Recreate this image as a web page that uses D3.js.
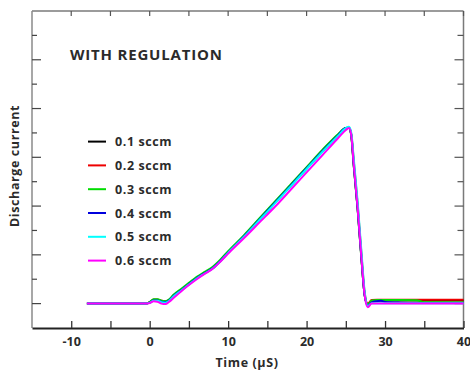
<!DOCTYPE html>
<html>
<head>
<meta charset="utf-8">
<script src="https://cdn.jsdelivr.net/npm/d3@7"></script>
<style>
  body { margin: 0; background: #fff; }
  svg text { font-family: "Open Sans", "DejaVu Sans", sans-serif; font-weight: 700; fill: #2b2b2b; letter-spacing: 0.6px; }
</style>
</head>
<body>
<div id="chart"></div>
<script>
// Shared time axis (µS)
const time = [-8, -0.5, 0, 0.5, 1, 1.5, 2, 2.5, 3, 4, 5, 6, 7, 8, 9, 10, 12, 14, 16, 18, 20, 22, 24,
              25, 25.4, 25.7, 26, 26.5, 27, 27.4, 27.8, 28.3, 29, 29.5, 30, 32, 34, 35, 40];

// Discharge current per flow rate (arbitrary units, baseline = 0)
const sccm01 = [0, 0, 0.05, 0.15, 0.15, 0.1, 0.08, 0.15, 0.3, 0.55, 0.8, 1.05, 1.25, 1.45, 1.75, 2.1, 2.75, 3.45, 4.15, 4.85, 5.55, 6.25, 6.9,
                7.2, 7.22, 6.9, 5.7, 3.9, 1.8, 0.35, -0.05, 0.12, 0.13, 0.13, 0.13, 0.13, 0.13, 0.13, 0.13];
const sccm02 = [0, 0, 0.06, 0.17, 0.17, 0.12, 0.1, 0.16, 0.32, 0.56, 0.8, 1.05, 1.25, 1.45, 1.75, 2.1, 2.75, 3.45, 4.15, 4.85, 5.55, 6.25, 6.9,
                7.18, 7.2, 6.95, 5.9, 4.1, 2.0, 0.45, 0.0, 0.15, 0.16, 0.16, 0.16, 0.16, 0.16, 0.16, 0.16];
const sccm03 = [0, 0, 0.06, 0.18, 0.18, 0.12, 0.1, 0.18, 0.35, 0.6, 0.85, 1.1, 1.3, 1.5, 1.8, 2.15, 2.8, 3.5, 4.2, 4.9, 5.6, 6.3, 6.95,
                7.2, 7.2, 6.85, 5.7, 3.9, 1.8, 0.35, -0.05, 0.13, 0.15, 0.15, 0.15, 0.15, 0.14, 0.06, 0.05];
const sccm04 = [0, 0, 0.04, 0.13, 0.13, 0.08, 0.06, 0.14, 0.3, 0.55, 0.8, 1.05, 1.25, 1.45, 1.75, 2.1, 2.75, 3.45, 4.15, 4.85, 5.55, 6.25, 6.9,
                7.2, 7.2, 6.9, 5.75, 3.95, 1.85, 0.35, -0.08, 0.05, 0.1, 0.12, 0.07, 0.04, 0.03, 0.03, 0.03];
const sccm05 = [0, 0, 0.03, 0.12, 0.12, 0.06, 0.04, 0.12, 0.28, 0.53, 0.78, 1.03, 1.23, 1.43, 1.73, 2.08, 2.73, 3.43, 4.12, 4.82, 5.52, 6.22, 6.88,
                7.2, 7.25, 7.0, 6.0, 4.2, 2.1, 0.5, -0.1, 0.02, 0.02, 0.02, 0.02, 0.01, 0.01, 0.01, 0.01];
const sccm06 = [0, 0, 0.02, 0.1, 0.08, 0.0, -0.02, 0.08, 0.22, 0.5, 0.76, 1.0, 1.22, 1.42, 1.72, 2.05, 2.68, 3.33, 3.98, 4.68, 5.38, 6.08, 6.78,
                7.12, 7.2, 6.9, 5.75, 3.95, 1.85, 0.35, -0.15, 0.0, 0.0, 0.0, 0.0, 0.0, 0.0, 0.0, 0.0];

const seriesNames = ["0.1 sccm", "0.2 sccm", "0.3 sccm", "0.4 sccm", "0.5 sccm", "0.6 sccm"];
const seriesValues = [sccm01, sccm02, sccm03, sccm04, sccm05, sccm06];
const seriesColors = ["#000000", "#ee0000", "#00dd00", "#0000dd", "#00ffff", "#ff00ff"];

const xTicks = [-10, -5, 0, 5, 10, 15, 20, 25, 30, 35, 40];
const xLabels = [-10, 0, 10, 20, 30, 40];
const yTicks = [0, 1, 2, 3, 4, 5, 6, 7, 8, 9, 10, 11];

const width = 470, height = 371;
const plotLeft = 32, plotRight = 463.5, plotTop = 11, plotBottom = 328;

const svg = d3.select('#chart')
    .append('svg')
    .attr('width', width)
    .attr('height', height);

const x = d3.scaleLinear().domain([-15, 40]).range([plotLeft, plotRight]);
const y = d3.scaleLinear().domain([-1, 12]).range([plotBottom, plotTop]);

// frame (top/left/right grey, bottom dark)
const frame = svg.append('g');
frame.append('line').attr('x1', plotLeft).attr('x2', plotRight).attr('y1', plotTop).attr('y2', plotTop)
    .attr('stroke', '#7a7a7a').attr('stroke-width', 1.5);
frame.append('line').attr('x1', plotLeft).attr('x2', plotLeft).attr('y1', plotTop).attr('y2', plotBottom)
    .attr('stroke', '#8a8a8a').attr('stroke-width', 1.5);
frame.append('line').attr('x1', plotRight).attr('x2', plotRight).attr('y1', plotTop).attr('y2', plotBottom)
    .attr('stroke', '#7a7a7a').attr('stroke-width', 1.5);

// top ticks
svg.append('g').selectAll('line')
    .data(xTicks)
    .enter().append('line')
    .attr('x1', d => x(d)).attr('x2', d => x(d))
    .attr('y1', plotTop).attr('y2', plotTop + 5)
    .attr('stroke', '#555').attr('stroke-width', 1.2);

// left & right ticks, alternating long/short
svg.append('g').selectAll('line')
    .data(yTicks)
    .enter().append('line')
    .attr('x1', plotLeft).attr('x2', d => plotLeft + (d % 2 === 0 ? 9 : 5))
    .attr('y1', d => y(d)).attr('y2', d => y(d))
    .attr('stroke', '#444').attr('stroke-width', 1.2);
svg.append('g').selectAll('line')
    .data(yTicks)
    .enter().append('line')
    .attr('x1', plotRight).attr('x2', d => plotRight - (d % 2 === 0 ? 9 : 6))
    .attr('y1', d => y(d)).attr('y2', d => y(d))
    .attr('stroke', '#555').attr('stroke-width', 1.2);

// bottom axis
const xAxis = d3.axisBottom(x)
    .tickValues(xTicks)
    .tickSizeInner(-7)
    .tickSizeOuter(0)
    .tickPadding(9)
    .tickFormat(d => xLabels.includes(d) ? d : '');

const gx = svg.append('g')
    .attr('transform', `translate(0,${plotBottom})`)
    .call(xAxis);
gx.select('.domain').attr('stroke', '#222').attr('stroke-width', 2);
gx.selectAll('.tick line').attr('stroke', '#333').attr('stroke-width', 1.3);
gx.selectAll('.tick text')
    .style('font-family', '"Open Sans", sans-serif')
    .style('font-weight', 700)
    .style('font-size', '12.5px')
    .style('letter-spacing', '0px')
    .attr('fill', '#2b2b2b');

// curves
const line = d3.line()
    .x((d, i) => x(time[i]))
    .y(d => y(d))
    .curve(d3.curveMonotoneX);

svg.append('g')
    .selectAll('path')
    .data(seriesValues)
    .enter().append('path')
    .attr('d', d => line(d))
    .attr('fill', 'none')
    .attr('stroke', (d, i) => seriesColors[i])
    .attr('stroke-width', 2)
    .attr('stroke-linejoin', 'round');

// title
svg.append('text')
    .attr('x', 70)
    .attr('y', 60)
    .style('font-size', '15px')
    .style('letter-spacing', '0.8px')
    .text('WITH REGULATION');

// legend
const legend = svg.append('g')
    .selectAll('g')
    .data(seriesNames)
    .enter().append('g')
    .attr('transform', (d, i) => `translate(0,${141.6 + i * 23.8})`);

legend.append('line')
    .attr('x1', 88).attr('x2', 106)
    .attr('y1', 0).attr('y2', 0)
    .attr('stroke', (d, i) => seriesColors[i])
    .attr('stroke-width', 2);

legend.append('text')
    .attr('x', 115)
    .attr('y', 4.5)
    .style('font-size', '12.5px')
    .text(d => d);

// axis titles
svg.append('text')
    .attr('x', 247)
    .attr('y', 367)
    .attr('text-anchor', 'middle')
    .style('font-size', '12.5px')
    .text('Time (µS)');

svg.append('text')
    .attr('transform', 'translate(19,166) rotate(-90)')
    .attr('text-anchor', 'middle')
    .style('font-size', '12.5px')
    .text('Discharge current');
</script>
</body>
</html>
